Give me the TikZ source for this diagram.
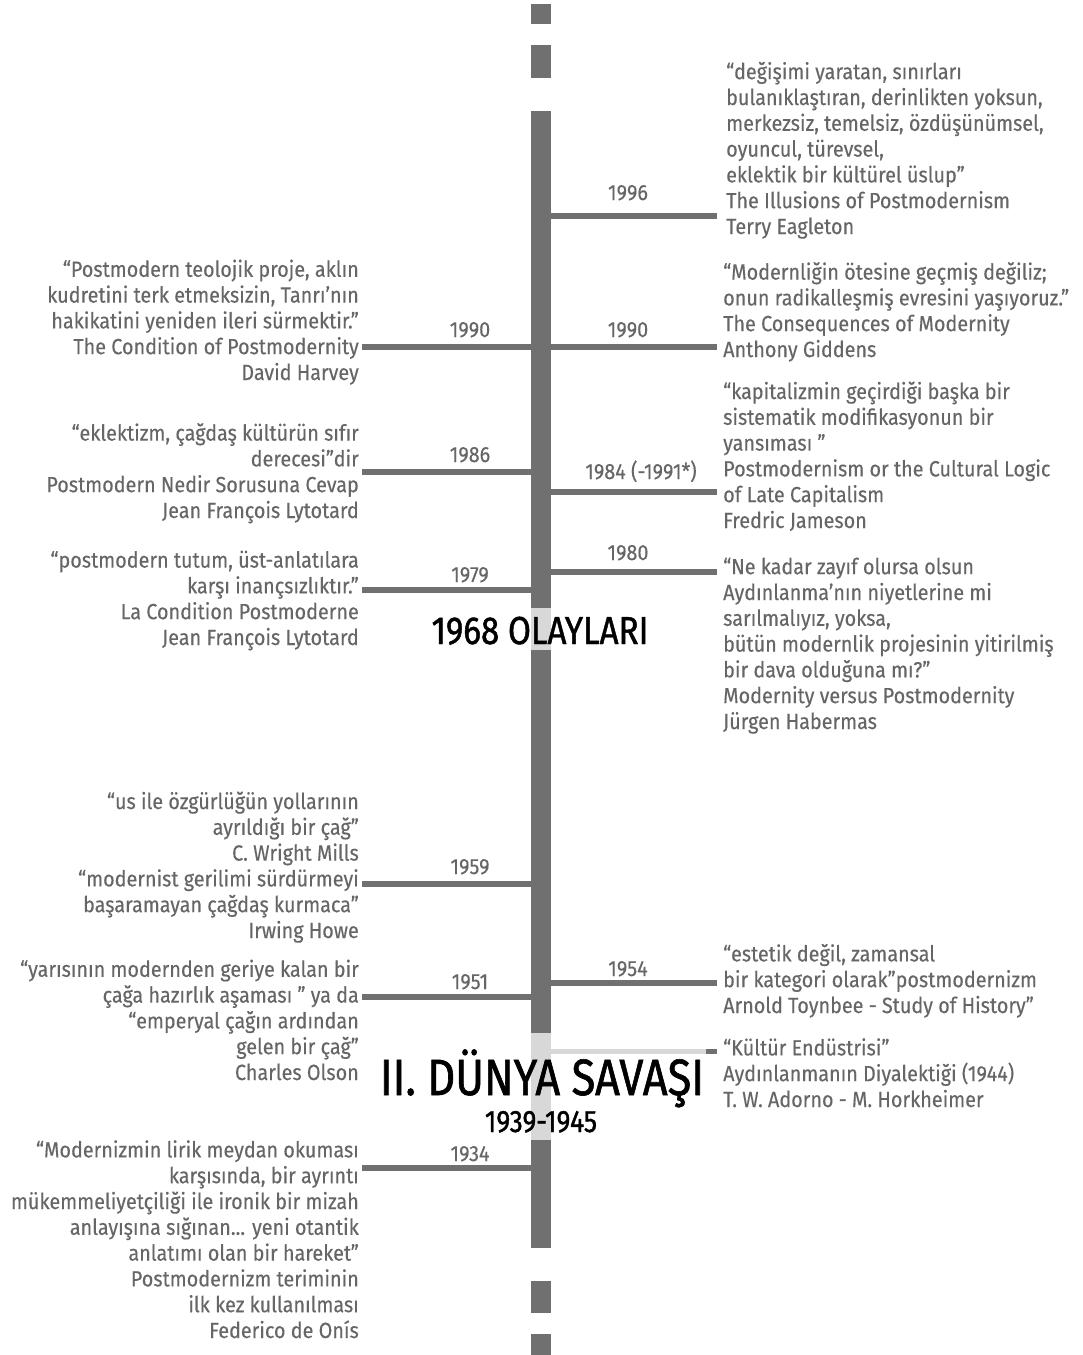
\documentclass[tikz,border=0pt]{standalone}
\usepackage{fontspec}
\setmainfont[FakeStretch=0.9, FakeBold=0.3]{Fira Sans}
\newfontfamily\bigfont[FakeStretch=0.85, FakeBold=1.2]{Fira Sans}

\definecolor{spinegray}{HTML}{707070}
\definecolor{palegray}{HTML}{D8D8D8}
\definecolor{textgray}{HTML}{666666}

\tikzset{
	quoteL/.style={anchor=base east, align=right, inner sep=0pt, text=textgray, font=\fontsize{22}{25.8}\selectfont},
	quoteR/.style={anchor=base west, align=left, inner sep=0pt, text=textgray, font=\fontsize{22}{25.8}\selectfont},
	year/.style={anchor=base, inner sep=0pt, text=textgray, font=\fontsize{22}{25.8}\selectfont},
	era/.style={anchor=base, inner sep=0pt, text=black},
	branch/.style={draw=spinegray, line width=6pt},
	palebranch/.style={draw=palegray, line width=5pt},
}

\begin{document}
\begin{tikzpicture}[x=1pt, y=-1pt]
	\useasboundingbox (0,0) rectangle (1082,1355);

	% timeline spine
	\fill [spinegray] (531,4) rectangle (551,24);
	\fill [spinegray] (531,45) rectangle (551,78);
	\fill [spinegray] (531,111) rectangle (551,608);
	\fill [palegray] (531,608) rectangle (551,650);
	\fill [spinegray] (531,650) rectangle (551,1033);
	\fill [palegray] (531,1033) rectangle (551,1140);
	\fill [spinegray] (531,1140) rectangle (551,1248);
	\fill [spinegray] (531,1281) rectangle (551,1313);
	\fill [spinegray] (531,1334) rectangle (551,1355);

	% right side (node base = last line)
	\coordinate (s96) at (551,216); \coordinate (e96) at (717,216);
	\draw [branch] (s96) -- (e96);
	\node [year] (y96) at (628,200) {1996};
	\node [quoteR] (q96) at (726,234) {“değişimi yaratan, sınırları\\bulanıklaştıran, derinlikten yoksun,\\merkezsiz, temelsiz, özdüşünümsel,\\oyuncul, türevsel,\\eklektik bir kültürel üslup”\\The Illusions of Postmodernism\\Terry Eagleton};

	\coordinate (s90r) at (551,347); \coordinate (e90r) at (717,347);
	\draw [branch] (s90r) -- (e90r);
	\node [year] (y90r) at (628,337) {1990};
	\node [quoteR] (q90r) at (723,357) {“Modernliğin ötesine geçmiş değiliz;\\onun radikalleşmiş evresini yaşıyoruz.”\\The Consequences of Modernity\\Anthony Giddens};

	\coordinate (s84) at (551,492); \coordinate (e84) at (717,492);
	\draw [branch] (s84) -- (e84);
	\node [year] (y84) at (641,479) {1984 (-1991*)};
	\node [quoteR] (q84) at (723,528) {“kapitalizmin geçirdiği başka bir\\sistematik modifikasyonun bir\\yansıması ”\\Postmodernism or the Cultural Logic\\of Late Capitalism\\Fredric Jameson};

	\coordinate (s80) at (551,572); \coordinate (e80) at (717,572);
	\draw [branch] (s80) -- (e80);
	\node [year] (y80) at (628,560) {1980};
	\node [quoteR] (q80) at (723,729) {“Ne kadar zayıf olursa olsun\\Aydınlanma’nın niyetlerine mi\\sarılmalıyız, yoksa,\\bütün modernlik projesinin yitirilmiş\\bir dava olduğuna mı?”\\Modernity versus Postmodernity\\Jürgen Habermas};

	\coordinate (s54) at (551,983); \coordinate (e54) at (717,983);
	\draw [branch] (s54) -- (e54);
	\node [year] (y54) at (628,976) {1954};
	\node [quoteR] (q54) at (723,1013) {“estetik değil, zamansal\\bir kategori olarak”postmodernizm\\Arnold Toynbee - Study of History”};

	\coordinate (s44) at (551,1051); \coordinate (m44) at (706,1051); \coordinate (e44) at (717,1051);
	\draw [palebranch] (s44) -- (m44);
	\draw [branch, line width=5pt] (m44) -- (e44);
	\node [quoteR] (q44) at (723,1107) {“Kültür Endüstrisi”\\Aydınlanmanın Diyalektiği (1944)\\T. W. Adorno - M. Horkheimer};

	% left side
	\coordinate (s90l) at (531,347); \coordinate (e90l) at (362,347);
	\draw [branch] (s90l) -- (e90l);
	\node [year] (y90l) at (470,337) {1990};
	\node [quoteL] (q90l) at (359,380) {“Postmodern teolojik proje, aklın\\kudretini terk etmeksizin, Tanrı’nın\\hakikatini yeniden ileri sürmektir.”\\The Condition of Postmodernity\\David Harvey};

	\coordinate (s86) at (531,472); \coordinate (e86) at (362,472);
	\draw [branch] (s86) -- (e86);
	\node [year] (y86) at (470,462) {1986};
	\node [quoteL] (q86) at (359,518) {“eklektizm, çağdaş kültürün sıfır\\derecesi”dir\\Postmodern Nedir Sorusuna Cevap\\Jean François Lytotard};

	\coordinate (s79) at (531,590); \coordinate (e79) at (362,590);
	\draw [branch] (s79) -- (e79);
	\node [year] (y79) at (470,582) {1979};
	\node [quoteL] (q79) at (359,645) {“postmodern tutum, üst-anlatılara\\karşı inançsızlıktır.”\\La Condition Postmoderne\\Jean François Lytotard};

	\coordinate (s59) at (531,884); \coordinate (e59) at (362,884);
	\draw [branch] (s59) -- (e59);
	\node [year] (y59) at (470,874) {1959};
	\node [quoteL] (q59) at (359,938) {“us ile özgürlüğün yollarının\\ayrıldığı bir çağ”\\C. Wright Mills\\“modernist gerilimi sürdürmeyi\\başaramayan çağdaş kurmaca”\\Irwing Howe};

	\coordinate (s51) at (531,997); \coordinate (e51) at (362,997);
	\draw [branch] (s51) -- (e51);
	\node [year] (y51) at (470,989) {1951};
	\node [quoteL] (q51) at (359,1080) {“yarısının modernden geriye kalan bir\\çağa hazırlık aşaması ” ya da\\“emperyal çağın ardından\\gelen bir çağ”\\Charles Olson};

	\coordinate (s34) at (531,1168); \coordinate (e34) at (362,1168);
	\draw [branch] (s34) -- (e34);
	\node [year] (y34) at (470,1161) {1934};
	\node [quoteL] (q34) at (359,1338) {“Modernizmin lirik meydan okuması\\karşısında, bir ayrıntı\\mükemmeliyetçiliği ile ironik bir mizah\\anlayışına sığınan... yeni otantik\\anlatımı olan bir hareket”\\Postmodernizm teriminin\\ilk kez kullanılması\\Federico de Onís};

	% era labels
	\node [era, font=\bigfont\fontsize{39}{39}\selectfont] (olay) at (540,644) {1968 OLAYLARI};
	\node [era, font=\bigfont\fontsize{51}{51}\selectfont] (war) at (542,1095) {II. DÜNYA SAVAŞI};
	\node [era, font=\bigfont\fontsize{31}{31}\selectfont] (wary) at (541,1132) {1939-1945};
\end{tikzpicture}
\end{document}
